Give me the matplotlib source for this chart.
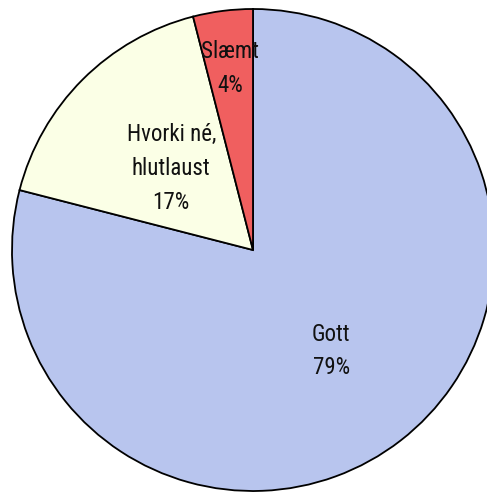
import matplotlib
matplotlib.use("Agg")
import matplotlib.pyplot as plt
import numpy as np

categories = ["Gott", "Hvorki né,\nhlutlaust", "Slæmt"]
values = [79, 17, 4]
pct_labels = ["79%", "17%", "4%"]
colors = ["#B8C5EE", "#FBFFE6", "#F05F5F"]
label_radius = [0.53, 0.48, 0.76]

W, H = 487, 496
fig = plt.figure(figsize=(W / 100, H / 100), dpi=100)
ax = fig.add_axes([0, 0, 1, 1])

R = 241.0
cx, cy = 253.0, 250.0
wedges, _ = ax.pie(values, colors=colors, startangle=90, counterclock=False,
                   radius=1.0, center=(0, 0),
                   wedgeprops=dict(edgecolor="black", linewidth=1.3))

fam = ["Roboto Condensed", "Liberation Sans", "DejaVu Sans"]
for w, name, pct, lr in zip(wedges, categories, pct_labels, label_radius):
    ang = np.deg2rad((w.theta1 + w.theta2) / 2)
    x, y = lr * np.cos(ang), lr * np.sin(ang)
    ax.text(x, y, f"{name}\n{pct}", ha="center", va="center", fontsize=16.5,
            family=fam, linespacing=1.6, color="#111111")

ax.set_xlim(-cx / R, (W - cx) / R)
ax.set_ylim(-(H - cy) / R, cy / R)
ax.set_aspect("equal")
ax.axis("off")
fig.savefig("out.png", dpi=100)
